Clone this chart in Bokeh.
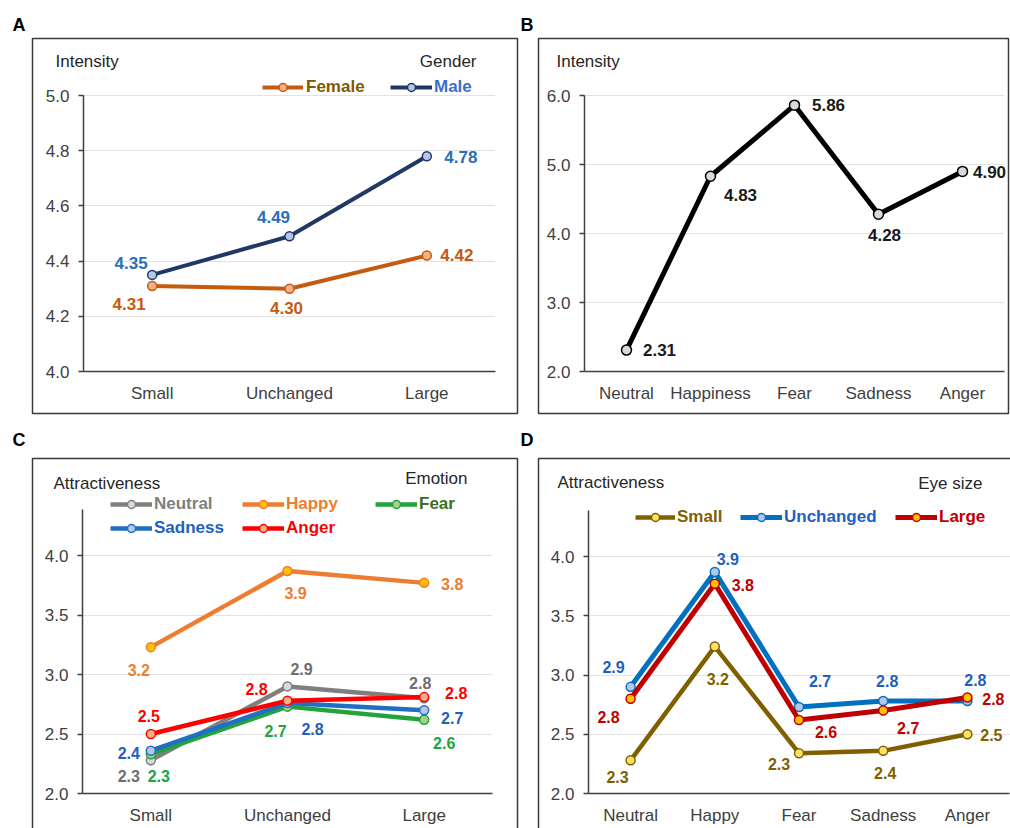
from bokeh.plotting import figure
from bokeh.models import (Range1d, FixedTicker, Legend, LegendItem, Label,
                          LabelSet, BoxAnnotation, ColumnDataSource, NumeralTickFormatter)
from bokeh.layouts import column, row
from bokeh.embed import file_html
from bokeh.resources import INLINE
from bokeh.core.properties import value

# ---------------- data ----------------
eye_sizes = ["Small", "Unchanged", "Large"]
a_female = [4.31, 4.30, 4.42]
a_male = [4.35, 4.49, 4.78]
a_ticks = [4.0, 4.2, 4.4, 4.6, 4.8, 5.0]

b_emotions = ["Neutral", "Happiness", "Fear", "Sadness", "Anger"]
b_intensity = [2.31, 4.83, 5.86, 4.28, 4.90]
b_ticks = [2.0, 3.0, 4.0, 5.0, 6.0]

c_neutral = [2.28, 2.90, 2.80]
c_happy = [3.23, 3.87, 3.77]
c_fear = [2.33, 2.73, 2.62]
c_sadness = [2.36, 2.76, 2.70]
c_anger = [2.50, 2.78, 2.81]
cd_ticks = [2.0, 2.5, 3.0, 3.5, 4.0]

d_emotions = ["Neutral", "Happy", "Fear", "Sadness", "Anger"]
d_small = [2.28, 3.24, 2.34, 2.36, 2.50]
d_unchanged = [2.90, 3.87, 2.73, 2.78, 2.78]
d_large = [2.80, 3.77, 2.62, 2.70, 2.81]

# ---------------- styles ----------------
FONT = "Liberation Sans"
AXIS_C = "#404040"
TXT_C = "#262626"
FS = "17px"
VFS = "16px"


class Panel:
    """A figure whose frame covers the whole canvas; data area placed by pixel bounds."""

    def __init__(self, cats, W, H, px_x0, px_x1, px_ylo, px_yhi, v_lo, v_hi, ticks, ax_top):
        self.W, self.H = W, H
        n = len(cats)
        kx = (px_x1 - px_x0) / n
        ky = (px_ylo - px_yhi) / (v_hi - v_lo)
        x0 = -px_x0 / kx
        x1 = n + (W - px_x1) / kx
        y0 = v_lo - (H - px_ylo) / ky
        y1 = v_hi + px_yhi / ky
        self.xs = [i + 0.5 for i in range(n)]
        p = figure(x_range=Range1d(x0, x1), y_range=Range1d(y0, y1), width=W, height=H,
                   min_border_left=0, min_border_right=0, min_border_top=0, min_border_bottom=0,
                   output_backend="svg", toolbar_location=None, outline_line_color=None)
        p.xgrid.visible = False
        p.ygrid.ticker = FixedTicker(ticks=ticks)
        p.ygrid.grid_line_color = "#c4c4c4"
        p.ygrid.grid_line_dash = "1 1"
        p.ygrid.grid_line_width = 1
        p.ygrid.cross_bounds = (0, n)
        p.yaxis.ticker = FixedTicker(ticks=ticks)
        p.yaxis.formatter = NumeralTickFormatter(format="0.0")
        p.yaxis.fixed_location = 0
        p.yaxis.bounds = (v_lo, ax_top)
        p.xaxis.ticker = FixedTicker(ticks=self.xs)
        p.xaxis.major_label_overrides = {x: c for x, c in zip(self.xs, cats)}
        p.xaxis.fixed_location = v_lo
        p.xaxis.bounds = (0, n)
        for ax in p.axis:
            ax.axis_line_color = AXIS_C
            ax.axis_line_width = 1.5
            ax.major_label_text_font = FONT
            ax.major_label_text_font_size = FS
            ax.major_label_text_color = AXIS_C
            ax.minor_tick_line_color = None
        p.yaxis.major_tick_out = 5
        p.yaxis.major_tick_in = 0
        p.yaxis.major_tick_line_color = AXIS_C
        p.yaxis.major_tick_line_width = 1.5
        p.yaxis.major_label_standoff = 9
        p.xaxis.major_tick_out = 0
        p.xaxis.major_tick_in = 0
        p.xaxis.major_tick_line_color = None
        p.xaxis.major_label_standoff = 12
        self.p = p

    def series(self, vals, lc, fc, lw, size, fmt, offs, tc, fsize=FS):
        src = ColumnDataSource(dict(x=self.xs, y=vals, t=[fmt % v for v in vals],
                                    dx=[o[0] for o in offs], dy=[-o[1] for o in offs]))
        lr = self.p.line('x', 'y', source=src, line_color=lc, line_width=lw)
        sr = self.p.scatter('x', 'y', source=src, size=size, fill_color=fc, line_color=lc,
                            line_width=1.5)
        self.p.add_layout(LabelSet(x='x', y='y', text='t', source=src, x_offset='dx',
                                   y_offset='dy', text_align='center', text_baseline='middle',
                                   text_font=value(FONT), text_font_size=fsize,
                                   text_font_style="bold", text_color=tc))
        return [lr, sr]

    def legend(self, rends, label, color, left, cy, gw, standoff=2):
        lg = Legend(items=[LegendItem(label=label, renderers=rends)],
                    location=(left, self.H - cy - 10), orientation="horizontal",
                    glyph_width=gw, glyph_height=20, label_height=20, label_width=10,
                    padding=0, margin=0, spacing=0, label_standoff=standoff,
                    label_text_font=FONT, label_text_font_style="bold",
                    label_text_font_size=FS, label_text_color=color,
                    border_line_alpha=0, background_fill_alpha=0)
        self.p.add_layout(lg)

    def text(self, text, x, cy, align="left", size=FS, bold=False, color=TXT_C):
        self.p.add_layout(Label(x=x, y=self.H - cy, x_units="screen", y_units="screen",
                                text=text, text_align=align, text_baseline="middle",
                                text_font=FONT, text_font_size=size,
                                text_font_style="bold" if bold else "normal",
                                text_color=color))

    def box(self, x0, x1, y0, y1):
        self.p.add_layout(BoxAnnotation(left=x0, right=x1, top=self.H - y0, bottom=self.H - y1,
                                        left_units="screen", right_units="screen",
                                        bottom_units="screen", top_units="screen",
                                        fill_alpha=0, line_color="#3a3a3a", line_width=1.5,
                                        line_alpha=1))


# ---------------- Panel A ----------------
A = Panel(eye_sizes, 519, 420, 83, 495, 371, 95, 4.0, 5.0, a_ticks, 5.0)
A.box(32, 517, 38, 413)
A.text("A", 12, 24, size="18px", bold=True, color="black")
A.text("Intensity", 55, 61)
A.text("Gender", 476, 61, align="right")
rf = A.series(a_female, "#C55A11", "#F4B183", 4, 9, "%.2f",
              [(-23, 18), (-3, 19), (30, -1)], "#C55A11")
rm = A.series(a_male, "#203864", "#B4C7E7", 4, 9, "%.2f",
              [(-21, -12), (-16, -19), (34, 1)], "#2A6EBB")
A.legend(rf, "Female", "#7F5A00", 262, 87, 41, 3)
A.legend(rm, "Male", "#3A6FC8", 390, 87, 42, 2)

# ---------------- Panel B ----------------
B = Panel(b_emotions, 491, 420, 65, 485, 371, 95, 2.0, 6.0, b_ticks, 6.0)
B.box(19, 489, 38, 413)
B.text("B", 1, 24, size="18px", bold=True, color="black")
B.text("Intensity", 37, 61)
B.series(b_intensity, "#000000", "#D9D9D9", 5, 10, "%.2f",
         [(33, 0), (30, 19), (34, 0), (6, 21), (27, 1)], "#1a1a1a")

# ---------------- Panel C ----------------
C = Panel(eye_sizes, 519, 408, 82, 492, 373, 135, 2.0, 4.0, cd_ticks, 4.0 + 46 / 119)
C.box(32, 517, 38, 430)
C.text("C", 12, 19, size="18px", bold=True, color="black")
C.text("Attractiveness", 53, 63)
C.text("Emotion", 467, 58, align="right")
r_ne = C.series(c_neutral, "#7F7F7F", "#D9D9D9", 4.5, 9, "%.1f",
                [(-22, 16), (14, -17), (-4, -15)], "#6E6E6E", VFS)
r_ha = C.series(c_happy, "#ED7D31", "#FFC000", 4.5, 9, "%.1f",
                [(-12, 23), (8, 22), (28, 1)], "#ED7D31", VFS)
r_fe = C.series(c_fear, "#22A33C", "#A9D18E", 4.5, 9, "%.1f",
                [(8, 22), (-12, 24), (20, 23)], "#22A33C", VFS)
r_sa = C.series(c_sadness, "#1F6FC5", "#B4C7E7", 4.5, 9, "%.1f",
                [(-22, 2), (25, 26), (28, 8)], "#1F5FBF", VFS)
r_an = C.series(c_anger, "#FF0000", "#F4B183", 4.5, 9, "%.1f",
                [(-2, -18), (-31, -12), (32, -4)], "#FF0000", VFS)
C.legend(r_ne, "Neutral", "#7F7F7F", 110, 84, 42)
C.legend(r_ha, "Happy", "#ED7D31", 242, 84, 42)
C.legend(r_fe, "Fear", "#3B6E22", 375, 84, 42)
C.legend(r_sa, "Sadness", "#1F5FBF", 110, 108, 42)
C.legend(r_an, "Anger", "#FF0000", 242, 108, 42)

# ---------------- Panel D ----------------
D = Panel(d_emotions, 491, 408, 69, 490, 373, 136, 2.0, 4.0, cd_ticks, 4.0 + 46 / 118.5)
D.box(19, 510, 38, 430)
D.text("D", 1, 19, size="18px", bold=True, color="black")
D.text("Attractiveness", 38, 62)
D.text("Eye size", 463, 63, align="right")
r_sm = D.series(d_small, "#7F6000", "#FFE066", 4.5, 9, "%.1f",
                [(-13, 17), (3, 32), (-20, 11), (2, 22), (24, 1)], "#7F6000", VFS)
r_un = D.series(d_unchanged, "#0070C0", "#B4C7E7", 5, 9, "%.1f",
                [(-17, -20), (13, -13), (21, -26), (4, -20), (8, -21)], "#1F5FBF", VFS)
r_lg = D.series(d_large, "#C00000", "#FFC000", 5, 9, "%.1f",
                [(-22, 18), (28, 1), (27, 12), (25, 17), (26, 1)], "#C00000", VFS)
D.legend(r_sm, "Small", "#7F6000", 116, 97, 40)
D.legend(r_un, "Unchanged", "#1F5FBF", 221, 97, 42)
D.legend(r_lg, "Large", "#C00000", 376, 97, 42)

layout = column(row(A.p, B.p), row(C.p, D.p))
open("out.html", "w").write(file_html(layout, INLINE))
